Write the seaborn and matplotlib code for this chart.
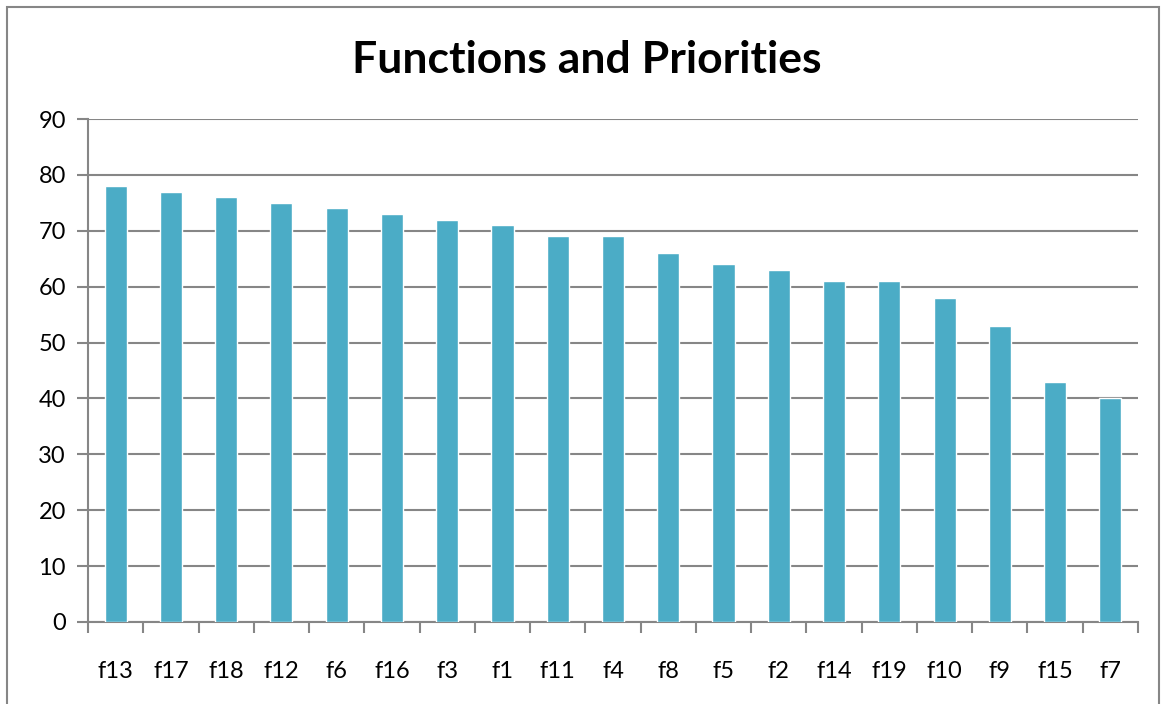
import numpy as np
import pandas as pd
import seaborn as sns
import matplotlib.pyplot as plt
from matplotlib.patches import Rectangle
from matplotlib.ticker import FixedLocator

# data
functions = ['f13', 'f17', 'f18', 'f12', 'f6', 'f16', 'f3', 'f1', 'f11', 'f4',
             'f8', 'f5', 'f2', 'f14', 'f19', 'f10', 'f9', 'f15', 'f7']
priorities = [78, 77, 76, 75, 74, 73, 72, 71, 69, 69,
              66, 64, 63, 61, 61, 58, 53, 43, 40]
y_ticks = [0, 10, 20, 30, 40, 50, 60, 70, 80, 90]

df = pd.DataFrame({'function': functions, 'priority': priorities})

sns.set_style('white')
plt.rcParams['font.family'] = ['Lato', 'DejaVu Sans']

fig = plt.figure(figsize=(11.63, 7.04), dpi=100)
ax = fig.add_axes([88 / 1163, 1 - 622 / 704, 1050 / 1163, 503 / 704])

grid_col = '#868686'
sns.barplot(data=df, x='function', y='priority', color='#4BACC6',
            width=0.4, saturation=1, ax=ax, zorder=3)

ax.set_ylim(0, 90)
ax.set_xlim(-0.5, len(functions) - 0.5)
ax.set_yticks(y_ticks)
ax.yaxis.grid(True, color=grid_col, linewidth=1.5, zorder=0)
ax.set_axisbelow(True)
ax.set_xlabel('')
ax.set_ylabel('')

for s in ['top', 'right']:
    ax.spines[s].set_visible(False)
for s in ['left', 'bottom']:
    ax.spines[s].set_color(grid_col)
    ax.spines[s].set_linewidth(1.5)

ax.tick_params(axis='y', which='major', length=8, width=1.5, color=grid_col,
               labelsize=17, labelcolor='black', pad=8, left=True)
ax.tick_params(axis='x', which='major', length=0, labelsize=17,
               labelcolor='black', pad=28)
ax.xaxis.set_minor_locator(FixedLocator(np.arange(-0.5, len(functions), 1.0)))
ax.tick_params(axis='x', which='minor', length=8, width=1.5, color=grid_col,
               bottom=True)

fig.text(587 / 1163, 1 - 60 / 704, 'Functions and Priorities',
         ha='center', va='center', fontsize=32, fontweight='bold',
         color='black')

# outer chart border
fig.patches.append(Rectangle((7 / 1163, -0.01), 1152 / 1163, 1 - 7 / 704 + 0.01,
                             transform=fig.transFigure, fill=False,
                             edgecolor=grid_col, linewidth=1.5))

fig.savefig('out.png', dpi=100)
